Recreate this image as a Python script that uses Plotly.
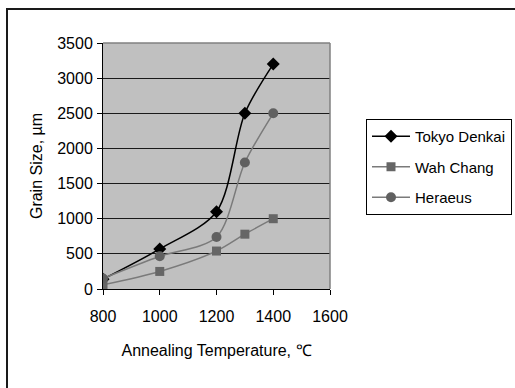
import plotly.graph_objects as go

temps = [800, 1000, 1200, 1300, 1400]
tokyo_denkai = [140, 570, 1100, 2500, 3200]
wah_chang = [60, 250, 540, 780, 1000]
heraeus = [150, 465, 740, 1800, 2500]

series = [
    ("Tokyo Denkai", tokyo_denkai, "#000000", "#000000", "diamond", 10),
    ("Wah Chang", wah_chang, "#7a7a7a", "#666666", "square", 9),
    ("Heraeus", heraeus, "#7a7a7a", "#606060", "circle", 10),
]

FONT = "Liberation Sans, Arial, sans-serif"

fig = go.Figure()
for i, (name, vals, lc, mc, sym, ms) in enumerate(series):
    fig.add_trace(go.Scatter(
        x=temps, y=vals, name=name, mode="lines+markers",
        line=dict(color=lc, width=1.5, shape="spline", smoothing=0.85),
        marker=dict(symbol=sym, size=ms, color=mc),
        legendgroup=f"g{i}",
    ))

W, H = 515, 388
ml, mr, mt, mb = 103, 185, 43, 99
pw, ph = W - ml - mr, H - mt - mb

def px(xp):
    return (xp - ml) / pw

def py(yp):
    return (H - mb - yp) / ph

fig.update_layout(
    width=W, height=H,
    margin=dict(l=ml, r=mr, t=mt, b=mb, pad=0, autoexpand=False),
    paper_bgcolor="white",
    plot_bgcolor="#c0c0c0",
    font=dict(family=FONT, size=15, color="#000000"),
    showlegend=True,
    legend=dict(
        x=px(366), y=py(119), xanchor="left", yanchor="top",
        bordercolor="#000000", borderwidth=1, bgcolor="white",
        font=dict(size=15), traceorder="grouped", tracegroupgap=8,
        itemwidth=38,
    ),
    xaxis=dict(
        range=[800, 1600], dtick=200, tick0=800,
        showgrid=False, zeroline=False, automargin=False,
        showline=True, linecolor="#000000", linewidth=1,
        ticks="outside", ticklen=5, tickcolor="#000000",
        tickfont=dict(size=16), ticklabelstandoff=8,
        title=dict(text="Annealing Temperature, ℃", font=dict(size=16), standoff=20),
    ),
    yaxis=dict(
        range=[0, 3500], dtick=500, tick0=0,
        showgrid=True, gridcolor="#1a1a1a", gridwidth=1,
        zeroline=False, automargin=False,
        showline=True, linecolor="#000000", linewidth=1,
        ticks="outside", ticklen=5, tickcolor="#000000",
        tickfont=dict(size=16), ticklabelstandoff=1,
        title=dict(text="Grain Size, µm", font=dict(size=16), standoff=10),
    ),
    shapes=[
        dict(type="line", xref="paper", yref="paper", x0=0, x1=1, y0=1, y1=1,
             line=dict(color="#808080", width=1.5), layer="above"),
        dict(type="line", xref="paper", yref="paper", x0=1, x1=1, y0=0, y1=1,
             line=dict(color="#808080", width=1.5), layer="above"),
        dict(type="rect", xref="paper", yref="paper",
             x0=px(7), x1=px(530), y0=py(9), y1=py(400),
             line=dict(color="#1a1a1a", width=2), layer="above"),
    ],
)

fig.write_html("out.html")
